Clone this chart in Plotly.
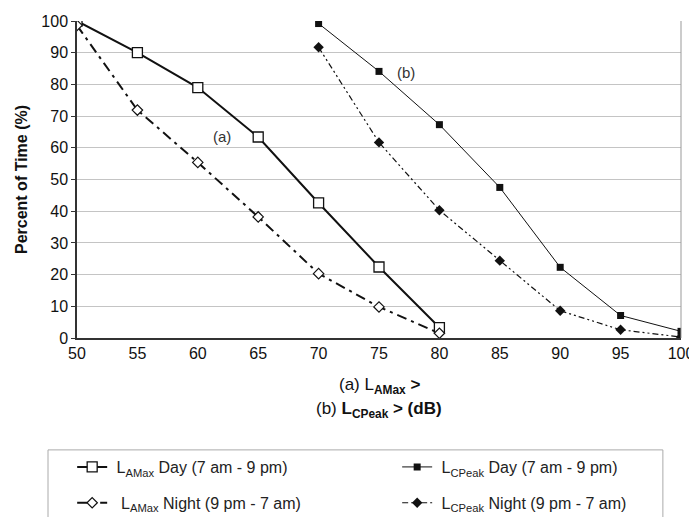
import plotly.graph_objects as go

x_amax = [50, 55, 60, 65, 70, 75, 80]
amax_day = [100, 90, 79, 63.4, 42.6, 22.4, 3.3]
amax_night = [98.6, 71.9, 55.4, 38.2, 20.3, 9.8, 1.5]

x_cpeak = [70, 75, 80, 85, 90, 95, 100]
cpeak_day = [99.2, 84.1, 67.3, 47.5, 22.3, 7.1, 2.1]
cpeak_night = [91.7, 61.7, 40.3, 24.4, 8.6, 2.6, 0.3]

x_ticks = [50, 55, 60, 65, 70, 75, 80, 85, 90, 95, 100]
x_ticklabels = ["50", "55", "60", "65", "70", "75", "80", "85", "90", "95", "100"]
y_ticks = [0, 10, 20, 30, 40, 50, 60, 70, 80, 90, 100]

FONT = "Liberation Sans, Arial, sans-serif"

fig = go.Figure()
fig.add_trace(go.Scatter(
    x=x_amax, y=amax_day, mode="lines+markers", legend="legend",
    name=" L<sub>AMax</sub> Day (7 am - 9 pm)",
    line=dict(color="#111", width=2),
    marker=dict(symbol="square", size=10, color="white", line=dict(color="#111", width=1.3)),
))
fig.add_trace(go.Scatter(
    x=x_cpeak, y=cpeak_day, mode="lines+markers", legend="legend",
    name=" L<sub>CPeak</sub> Day (7 am - 9 pm)",
    line=dict(color="#111", width=1),
    marker=dict(symbol="square", size=7, color="#111"),
))
fig.add_trace(go.Scatter(
    x=x_amax, y=amax_night, mode="lines+markers", legend="legend2",
    name="  L<sub>AMax</sub> Night (9 pm - 7 am)",
    line=dict(color="#111", width=2, dash="10px,5px,3px,5px"),
    marker=dict(symbol="diamond", size=8, color="white", line=dict(color="#111", width=1.2)),
))
fig.add_trace(go.Scatter(
    x=x_cpeak, y=cpeak_night, mode="lines+markers", legend="legend2",
    name=" L<sub>CPeak</sub> Night (9 pm - 7 am)",
    line=dict(color="#111", width=1.2, dash="6px,3px,2px,3px,2px,3px"),
    marker=dict(symbol="diamond", size=8, color="#111"),
))

fig.add_annotation(x=62, y=63.5, text="(a)", showarrow=False, font=dict(size=15, color="#333", family=FONT))
fig.add_annotation(x=77.2, y=83.7, text="(b)", showarrow=False, font=dict(size=15, color="#333", family=FONT))

fig.add_annotation(xref="paper", yref="paper", x=0.5, y=-0.151, yanchor="middle",
                   text="(a) L<b><sub>AMax</sub> ></b>", showarrow=False,
                   font=dict(size=17, color="#111", family=FONT))
fig.add_annotation(xref="paper", yref="paper", x=0.5, y=-0.227, yanchor="middle",
                   text="(b) <b>L<sub>CPeak</sub> > (dB)</b>", showarrow=False,
                   font=dict(size=17, color="#111", family=FONT))

leg_common = dict(
    orientation="h", xanchor="left", yanchor="middle",
    entrywidth=280, entrywidthmode="pixels",
    borderwidth=0, bgcolor="rgba(0,0,0,0)",
    font=dict(size=16, family=FONT, color="#222"),
)

# The page body adds an 8px margin, so the figure is 8px smaller on each axis.
fig.update_layout(
    width=689, height=509,
    margin=dict(l=69, r=16, t=13, b=179, autoexpand=False),
    paper_bgcolor="white", plot_bgcolor="white",
    font=dict(family=FONT, size=16, color="#111"),
    showlegend=True,
    legend=dict(x=-0.008, y=-0.407, **leg_common),
    legend2=dict(x=-0.008, y=-0.52, **leg_common),
    xaxis=dict(
        range=[50, 100], tickvals=x_ticks, ticktext=x_ticklabels,
        showgrid=False, zeroline=False,
        showline=True, linecolor="#333", linewidth=1.5,
        ticks="", tickfont=dict(size=16), mirror=False,
    ),
    yaxis=dict(
        range=[0, 100], tickvals=y_ticks,
        showgrid=True, gridcolor="#c4c4c4", gridwidth=1, zeroline=False,
        showline=True, linecolor="#333", linewidth=1.5,
        ticks="outside", ticklen=4, tickcolor="#333",
        tickfont=dict(size=16),
        title=dict(text="<b>Percent of Time (%)</b>", font=dict(size=16), standoff=10),
    ),
)
fig.add_shape(type="line", xref="paper", yref="paper", x0=1, x1=1, y0=0, y1=1,
              line=dict(color="#999", width=1))
fig.add_shape(type="rect", xref="paper", yref="paper", x0=-0.048, x1=0.97, y0=-0.353, y1=-0.8,
              line=dict(color="#aaa", width=1))

fig.write_html("out.html")
